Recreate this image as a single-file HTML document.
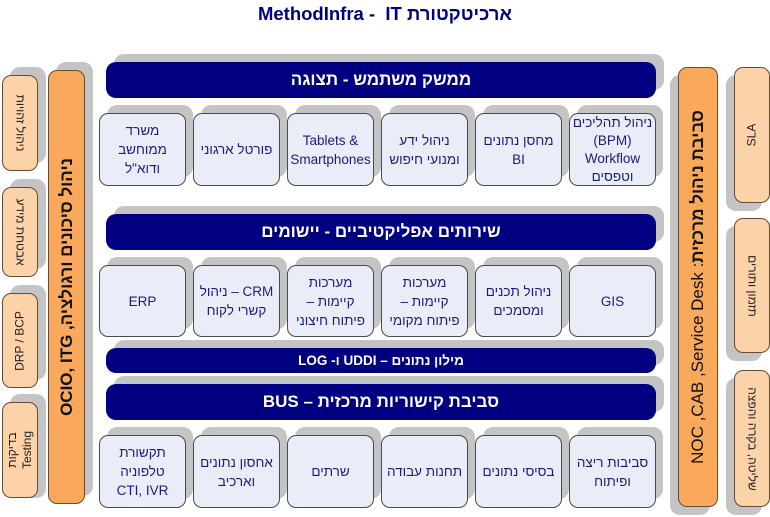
<!DOCTYPE html>
<html><head><meta charset="utf-8"><style>
body{margin:0;width:770px;height:517px;background:#fff;position:relative;overflow:hidden;font-family:"Liberation Sans","Noto Sans CJK SC",sans-serif}
.s{position:absolute;background:#c4c4c4;border-radius:10px}
.b{position:absolute;box-sizing:border-box;display:flex;align-items:center;justify-content:center;text-align:center}
.bar{background:#000080;color:#fff;font-weight:bold;font-size:17px;border-radius:10px;direction:rtl}
.box{background:#e8edf7;border:1px solid #4a4a4a;border-radius:9px;color:#1c1c7a;font-size:13.5px;line-height:19px;direction:rtl}
.or{background:#f9a85c;border:1px solid #6a4a30;border-radius:9px;color:#111;font-weight:bold;font-size:17px}
.lo{background:#fcd2a8;border:1px solid #6a4a30;border-radius:9px;color:#222;font-size:12px;line-height:15px}
.r{position:absolute;left:50%;top:50%;transform:translate(-50%,-50%) rotate(-90deg);white-space:nowrap;text-align:center}
.v{position:absolute;left:50%;top:50%;transform:translate(-50%,-50%) rotate(90deg);white-space:nowrap;text-align:center;direction:rtl}
</style></head><body>
<div style="position:absolute;left:0;top:3px;width:770px;text-align:center;color:#000080;font-weight:bold;font-size:18.5px" dir="ltr">MethodInfra -&nbsp; IT <span dir="rtl">ארכיטקטורת</span></div>

<div class="s" style="left:114px;top:54px;width:550px;height:36px"></div>
<div class="b bar" style="left:106px;top:62px;width:550px;height:36px">ממשק משתמש - תצוגה</div>
<div class="s" style="left:114px;top:206px;width:550px;height:36px"></div>
<div class="b bar" style="left:106px;top:214px;width:550px;height:36px">שירותים אפליקטיביים - יישומים</div>
<div class="s" style="left:114px;top:340px;width:550px;height:25px"></div>
<div class="b bar" style="left:106px;top:348px;width:550px;height:25px;font-size:13.5px">מילון נתונים – UDDI ו- LOG</div>
<div class="s" style="left:114px;top:376px;width:550px;height:36px"></div>
<div class="b bar" style="left:106px;top:384px;width:550px;height:36px">סביבת קישוריות מרכזית – BUS</div>

<div class="s" style="left:107px;top:105px;width:86px;height:72px"></div><div class="b box" style="left:99px;top:113px;width:87px;height:73px">משרד<br>ממוחשב<br>ודוא"ל</div>
<div class="s" style="left:201px;top:105px;width:86px;height:72px"></div><div class="b box" style="left:193px;top:113px;width:87px;height:73px">פורטל ארגוני</div>
<div class="s" style="left:295px;top:105px;width:86px;height:72px"></div><div class="b box" style="left:287px;top:113px;width:87px;height:73px" dir="ltr"><span dir="ltr">Tablets &amp;<br>Smartphones</span></div>
<div class="s" style="left:389px;top:105px;width:86px;height:72px"></div><div class="b box" style="left:381px;top:113px;width:87px;height:73px">ניהול ידע<br>ומנועי חיפוש</div>
<div class="s" style="left:483px;top:105px;width:86px;height:72px"></div><div class="b box" style="left:475px;top:113px;width:87px;height:73px">מחסן נתונים<br>BI</div>
<div class="s" style="left:577px;top:105px;width:86px;height:72px"></div><div class="b box" style="left:569px;top:113px;width:87px;height:73px;line-height:18px">ניהול תהליכים<br>(BPM)<br>Workflow<br>וטפסים</div>

<div class="s" style="left:107px;top:257px;width:86px;height:72px"></div><div class="b box" style="left:99px;top:265px;width:87px;height:72px">ERP</div>
<div class="s" style="left:201px;top:257px;width:86px;height:72px"></div><div class="b box" style="left:193px;top:265px;width:87px;height:72px">CRM – ניהול<br>קשרי לקוח</div>
<div class="s" style="left:295px;top:257px;width:86px;height:72px"></div><div class="b box" style="left:287px;top:265px;width:87px;height:72px">מערכות<br>קיימות –<br>פיתוח חיצוני</div>
<div class="s" style="left:389px;top:257px;width:86px;height:72px"></div><div class="b box" style="left:381px;top:265px;width:87px;height:72px">מערכות<br>קיימות –<br>פיתוח מקומי</div>
<div class="s" style="left:483px;top:257px;width:86px;height:72px"></div><div class="b box" style="left:475px;top:265px;width:87px;height:72px">ניהול תכנים<br>ומסמכים</div>
<div class="s" style="left:577px;top:257px;width:86px;height:72px"></div><div class="b box" style="left:569px;top:265px;width:87px;height:72px">GIS</div>

<div class="s" style="left:107px;top:427px;width:86px;height:72px"></div><div class="b box" style="left:99px;top:435px;width:87px;height:73px">תקשורת<br>טלפוניה<br>CTI, IVR</div>
<div class="s" style="left:201px;top:427px;width:86px;height:72px"></div><div class="b box" style="left:193px;top:435px;width:87px;height:73px">אחסון נתונים<br>וארכיב</div>
<div class="s" style="left:295px;top:427px;width:86px;height:72px"></div><div class="b box" style="left:287px;top:435px;width:87px;height:73px">שרתים</div>
<div class="s" style="left:389px;top:427px;width:86px;height:72px"></div><div class="b box" style="left:381px;top:435px;width:87px;height:73px">תחנות עבודה</div>
<div class="s" style="left:483px;top:427px;width:86px;height:72px"></div><div class="b box" style="left:475px;top:435px;width:87px;height:73px">בסיסי נתונים</div>
<div class="s" style="left:577px;top:427px;width:86px;height:72px"></div><div class="b box" style="left:569px;top:435px;width:87px;height:73px">סביבות ריצה<br>ופיתוח</div>

<div class="s" style="left:56px;top:62px;width:37px;height:434px"></div>
<div class="b or" style="left:48px;top:70px;width:37px;height:434px"><div class="r" dir="ltr">OCIO, ITG ,<span dir="rtl">ניהול סיכונים ורגולציה</span></div></div>

<div class="s" style="left:10px;top:67px;width:36px;height:96px"></div><div class="b lo" style="left:2px;top:75px;width:36px;height:96px"><div class="v">ניהול זהויות</div></div>
<div class="s" style="left:10px;top:179px;width:36px;height:90px"></div><div class="b lo" style="left:2px;top:187px;width:36px;height:90px"><div class="v">אבטחת מידע</div></div>
<div class="s" style="left:10px;top:285px;width:36px;height:95px"></div><div class="b lo" style="left:2px;top:293px;width:36px;height:95px"><div class="r">DRP / BCP</div></div>
<div class="s" style="left:10px;top:394px;width:36px;height:104px"></div><div class="b lo" style="left:2px;top:402px;width:36px;height:96px"><div class="r">בדיקות<br>Testing</div></div>

<div class="s" style="left:670px;top:75px;width:40px;height:440px"></div>
<div class="b or" style="left:678px;top:67px;width:40px;height:440px"><div class="r" dir="ltr" style="font-weight:normal;font-size:17px">NOC ,CAB ,Service Desk :<span dir="rtl" style="font-weight:bold">סביבת ניהול מרכזית</span></div></div>

<div class="s" style="left:726px;top:75px;width:36px;height:136px"></div><div class="b lo" style="left:734px;top:67px;width:36px;height:136px"><div class="r">SLA</div></div>
<div class="s" style="left:726px;top:226px;width:36px;height:135px"></div><div class="b lo" style="left:734px;top:218px;width:36px;height:135px"><div class="v">תזמון ותורים</div></div>
<div class="s" style="left:726px;top:378px;width:36px;height:137px"></div><div class="b lo" style="left:734px;top:370px;width:36px;height:137px"><div class="v">שליטה, בקרה והפצה</div></div>
</body></html>
